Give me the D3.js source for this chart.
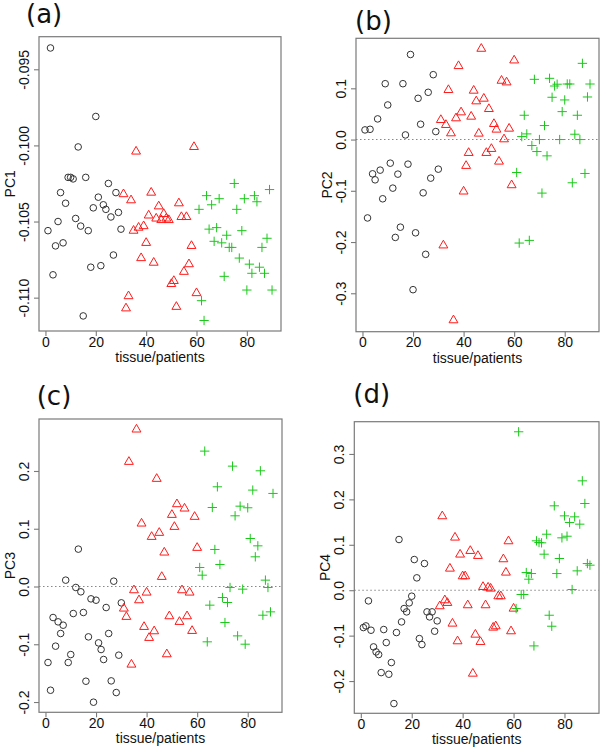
<!DOCTYPE html>
<html>
<head>
<meta charset="utf-8">
<script src="https://cdn.jsdelivr.net/npm/d3@7"></script>
<style>
  html, body { margin: 0; padding: 0; background: #fff; }
  svg { display: block; }
  text { font-family: "Liberation Sans", Arial, sans-serif; fill: #111; }
</style>
</head>
<body>
<svg id="chart" width="600" height="751"></svg>
<script>
// ---------------- DATA ----------------
const panelNames = ["(a)", "(b)", "(c)", "(d)"];
const yTitles = ["PC1", "PC2", "PC3", "PC4"];
const xTitle = "tissue/patients";
const xTicks = [0, 20, 40, 60, 80];
const yTicksA = [-0.095, -0.100, -0.105, -0.110];
const yTicksB = [0.1, 0.0, -0.1, -0.2, -0.3];
const yTicksC = [0.2, 0.1, 0.0, -0.1, -0.2];
const yTicksD = [0.3, 0.2, 0.1, 0.0, -0.1, -0.2];
const yTickLabelsA = ["-0.095", "-0.100", "-0.105", "-0.110"];
const yTickLabelsB = ["0.1", "0.0", "-0.1", "-0.2", "-0.3"];
const yTickLabelsC = ["0.2", "0.1", "0.0", "-0.1", "-0.2"];
const yTickLabelsD = ["0.3", "0.2", "0.1", "0.0", "-0.1", "-0.2"];

// groups: samples 1-30 (circles), 31-60 (triangles), 61-90 (crosses)
const groupStart = [1, 31, 61];

const pc1Circle = [-0.1056,-0.0936,-0.1085,-0.1066,-0.1050,-0.1031,-0.1064,-0.1038,-0.1021,-0.1021,
  -0.1022,-0.1048,-0.1001,-0.1053,-0.1112,-0.1021,-0.1056,-0.1080,-0.1041,-0.0981,
  -0.1034,-0.1079,-0.1039,-0.1042,-0.1025,-0.1047,-0.1072,-0.1031,-0.1044,-0.1055];
const pc1Tri = [-0.1032,-0.1107,-0.1099,-0.1036,-0.1056,-0.1004,-0.1054,-0.1074,-0.1053,-0.1064,
  -0.1046,-0.1031,-0.1077,-0.1048,-0.1040,-0.1049,-0.1045,-0.1048,-0.1049,-0.1091,
  -0.1089,-0.1106,-0.1038,-0.1047,-0.1083,-0.1047,-0.1078,-0.1066,-0.1001,-0.1097];
const pc1Plus = [-0.1042,-0.1102,-0.1115,-0.1033,-0.1055,-0.1039,-0.1063,-0.1054,-0.1035,-0.1064,
  -0.1086,-0.1059,-0.1067,-0.1067,-0.1025,-0.1042,-0.1074,-0.1056,-0.1035,-0.1095,
  -0.1078,-0.1084,-0.1033,-0.1037,-0.1080,-0.1067,-0.1084,-0.1061,-0.1029,-0.1095];

const pc2Circle = [0.0188,-0.153,0.020,-0.0669,-0.0786,0.0403,-0.0597,-0.1156,0.109,0.0675,
  -0.0461,-0.0948,-0.191,-0.0675,-0.171,0.109,0.009,-0.048,0.166,-0.293,
  -0.182,0.0805,0.0299,-0.104,-0.224,0.0922,-0.0753,0.1266,0.0156,-0.0578];
const pc2Tri = [0.0383,-0.2065,0.0286,0.0968,0.0123,-0.3526,0.0416,0.1435,0.0532,-0.1013,
  -0.0513,-0.026,0.0448,0.0955,0.0747,0.0117,0.1773,0.0799,-0.026,0.0597,
  -0.0182,0.0305,0.0195,-0.0429,0.1149,0.0006,0.1117,0.0214,-0.089,0.1545];
const pc2Plus = [-0.0643,-0.202,0.0058,0.0474,0.011,-0.1968,-0.0117,0.1175,-0.0234,0.0,
  -0.1045,0.0273,-0.0318,0.1195,0.0825,0.1045,0.108,0.0,0.0545,0.0773,
  0.1084,0.1084,-0.0844,0.0104,0.0474,0.0,0.1487,-0.0662,0.0831,0.1084];

const pc3Circle = [-0.1316,-0.1796,-0.0537,-0.1033,-0.0612,-0.0814,-0.067,0.011,-0.1316,-0.1178,
  -0.0468,-0.0017,0.0647,-0.0092,-0.045,-0.164,-0.0872,-0.0214,-0.2003,-0.0237,
  -0.0976,-0.1091,-0.1264,-0.0364,-0.0814,-0.1634,0.0092,-0.1836,-0.1189,-0.0283];
const pc3Tri = [-0.0381,-0.0525,0.2159,-0.1351,-0.0064,0.2719,-0.0237,0.1091,-0.0699,-0.0104,
  -0.0889,0.086,-0.0774,0.1865,0.093,0.0167,0.0589,-0.1172,-0.0514,0.1241,
  0.1033,0.1426,-0.0612,-0.0064,0.1351,-0.0514,-0.0104,-0.0768,0.1207,0.067];
const pc3Plus = [0.0329,0.0196,0.2344,-0.0958,-0.0323,0.1368,0.0641,0.1726,0.0381,-0.0191,
  -0.0624,-0.0277,-0.0017,0.2084,0.1224,-0.0855,0.1391,-0.0046,-0.0999,0.1363,
  0.0831,0.1669,0.0514,0.0704,0.2003,-0.0497,0.011,-0.0017,-0.0439,0.1611];

const pc4Circle = [-0.0822,-0.0786,-0.0235,-0.0881,-0.1248,-0.1358,-0.1417,-0.1814,-0.0866,-0.1153,
  -0.185,-0.1593,-0.2496,-0.0932,0.1116,-0.0698,-0.0404,-0.0477,-0.0279,-0.0132,
  0.0675,0.0272,-0.1065,-0.1197,0.0587,-0.0477,-0.0587,-0.0477,-0.0903,-0.0675];
const pc4Tri = [-0.0352,0.163,-0.022,-0.0279,0.0477,-0.0734,0.116,-0.1123,0.0786,0.0308,
  0.0308,-0.033,0.0866,-0.1836,-0.0977,0.0756,-0.1138,0.0073,-0.033,0.0059,
  0.0037,-0.0822,-0.0793,-0.0132,-0.0132,0.0683,0.0389,0.1079,-0.0903,-0.0404];
const pc4Plus = [-0.0404,0.3488,-0.0095,-0.0095,0.0389,0.0242,0.0367,-0.1226,0.1087,0.105,
  0.1043,0.0793,0.1233,-0.0551,-0.0793,0.1858,0.0367,0.0698,0.1153,0.1637,
  0.1189,0.149,0.0015,0.1615,0.0426,0.1454,0.2408,0.1909,0.0587,0.0551];

// ---------------- LAYOUT / STYLE ----------------
const panels = [
  { name: panelNames[0], yTitle: yTitles[0], series: [pc1Circle, pc1Tri, pc1Plus],
    yTicks: yTicksA, yLabels: yTickLabelsA, zero: false,
    box: [39, 36.7, 281, 331], ydom: [-0.11219, -0.09286], label: [26, 23.3] },
  { name: panelNames[1], yTitle: yTitles[1], series: [pc2Circle, pc2Tri, pc2Plus],
    yTicks: yTicksB, yLabels: yTickLabelsB, zero: true,
    box: [356, 38.3, 599, 331.7], ydom: [-0.375, 0.1976], label: [355, 30] },
  { name: panelNames[2], yTitle: yTitles[2], series: [pc3Circle, pc3Tri, pc3Plus],
    yTicks: yTicksC, yLabels: yTickLabelsC, zero: true,
    box: [39, 419, 282, 712.3], ydom: [-0.2178, 0.29], label: [36.7, 404.8] },
  { name: panelNames[3], yTitle: yTitles[3], series: [pc4Circle, pc4Tri, pc4Plus],
    yTicks: yTicksD, yLabels: yTickLabelsD, zero: true,
    box: [354.3, 421.7, 599, 713.3], ydom: [-0.271, 0.371], label: [353.3, 403.3] }
];
const xDomain = [-2.56, 93.56];
const R = 3.3;
const colors = ["#333333", "#ff1a1a", "#19c819"];
const boxColor = "#7a7a7a";

const svg = d3.select("#chart");

function triPath(r) {
  const k0 = Math.sqrt(4 * Math.PI / (3 * Math.sqrt(3)));
  const top = k0 * r, half = k0 * Math.sqrt(3) / 2 * r, bot = k0 / 2 * r;
  return `M0,${-top}L${half},${bot}L${-half},${bot}Z`;
}
function plusPath(r) {
  const h = r * Math.SQRT2;
  return `M${-h},0H${h}M0,${-h}V${h}`;
}

panels.forEach(p => {
  const [x0, y0, x1, y1] = p.box;
  const x = d3.scaleLinear().domain(xDomain).range([x0, x1]);
  const y = d3.scaleLinear().domain(p.ydom).range([y1, y0]);
  const g = svg.append("g");

  // panel label
  g.append("text").attr("x", p.label[0]).attr("y", p.label[1])
    .style("font-family", "'DejaVu Sans', sans-serif").style("font-size", "26px")
    .text(p.name);

  // zero line
  if (p.zero) {
    g.append("line").attr("x1", x0).attr("x2", x1).attr("y1", y(0)).attr("y2", y(0))
      .attr("stroke", "#888").attr("stroke-width", 1.1).attr("stroke-dasharray", "1.5,2.5");
  }

  // points
  p.series.forEach((vals, gi) => {
    const pts = vals.map((v, i) => ({ x: groupStart[gi] + i, y: v }));
    const sel = g.append("g").selectAll("path").data(pts).join("path")
      .attr("transform", d => `translate(${x(d.x)},${y(d.y)})`)
      .attr("fill", "none").attr("stroke", colors[gi]).attr("stroke-width", 1);
    if (gi === 0) sel.attr("d", d3.symbol().type(d3.symbolCircle).size(Math.PI * R * R));
    else if (gi === 1) sel.attr("d", triPath(R));
    else sel.attr("d", plusPath(R));
  });

  // box
  g.append("rect").attr("x", x0).attr("y", y0).attr("width", x1 - x0).attr("height", y1 - y0)
    .attr("fill", "none").attr("stroke", boxColor).attr("stroke-width", 1.2);

  // x axis
  const xa = g.append("g").attr("transform", `translate(0,${y1})`)
    .call(d3.axisBottom(x).tickValues(xTicks).tickSize(5).tickPadding(3).tickFormat(d3.format("d")));
  xa.select(".domain").remove();
  xa.selectAll("line").attr("stroke", boxColor).attr("stroke-width", 1.1);
  xa.selectAll("text").attr("y", 15.5).attr("dy", 0).style("font-size", "14px")
    .style("font-family", "'Liberation Sans', Arial, sans-serif").attr("fill", "#111");

  // y axis
  const ya = g.append("g").attr("transform", `translate(${x0},0)`)
    .call(d3.axisLeft(y).tickValues(p.yTicks).tickSize(5)
      .tickFormat((d, i) => p.yLabels[i]));
  ya.select(".domain").remove();
  ya.selectAll("line").attr("stroke", boxColor).attr("stroke-width", 1.1);
  ya.selectAll("text").attr("transform", "rotate(-90)").attr("x", 0).attr("y", -10.5)
    .attr("dy", 0).attr("text-anchor", "middle").style("font-size", "14px")
    .style("font-family", "'Liberation Sans', Arial, sans-serif").attr("fill", "#111");

  // axis titles
  g.append("text").attr("x", (x0 + x1) / 2).attr("y", y1 + 31)
    .attr("text-anchor", "middle").style("font-size", "14px").text(xTitle);
  g.append("text").attr("transform", `translate(${x0 - 24.5},${(y0 + y1) / 2}) rotate(-90)`)
    .attr("text-anchor", "middle").style("font-size", "14px").text(p.yTitle);
});
</script>
</body>
</html>
